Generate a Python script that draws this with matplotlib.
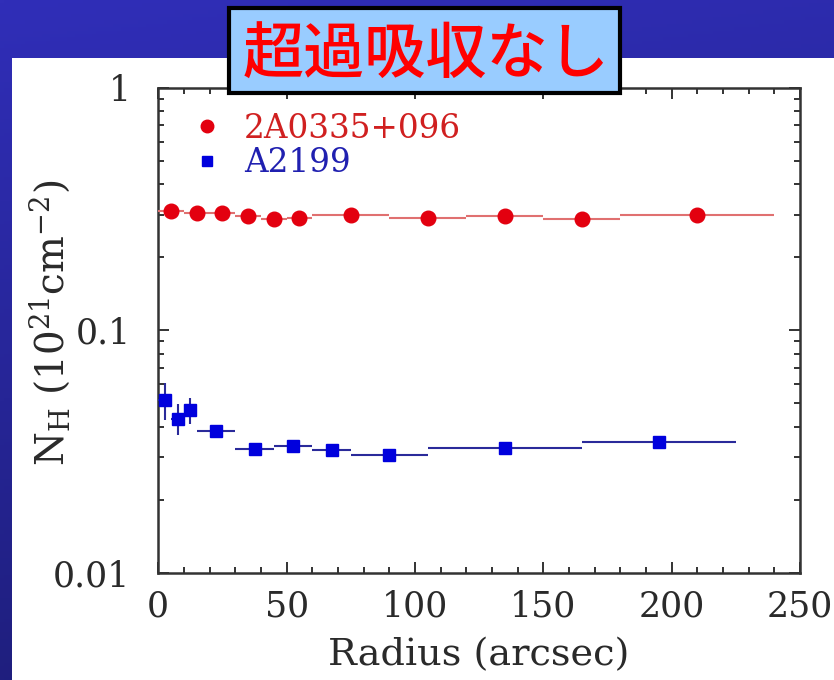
import numpy as np
import matplotlib
matplotlib.use("Agg")
import matplotlib.pyplot as plt
from matplotlib.patches import Rectangle
from matplotlib.ticker import MultipleLocator, FixedLocator, FixedFormatter, LogLocator, NullFormatter

# ---- data ----
title_text = "超過吸収なし"
label_red = "2A0335+096"
label_blue = "A2199"

r_red = [5, 15, 25, 35, 45, 55, 75, 105, 135, 165, 210]
r_red_lo = [0, 10, 20, 30, 40, 50, 60, 90, 120, 150, 180]
r_red_hi = [10, 20, 30, 40, 50, 60, 90, 120, 150, 180, 240]
nh_red = [0.310, 0.304, 0.304, 0.296, 0.289, 0.291, 0.300, 0.291, 0.295, 0.287, 0.300]

r_blue = [2.5, 7.5, 12.5, 22.5, 37.5, 52.5, 67.5, 90, 135, 195]
r_blue_lo = [0, 5, 10, 15, 30, 45, 60, 75, 105, 165]
r_blue_hi = [5, 10, 15, 30, 45, 60, 75, 105, 165, 225]
nh_blue = [0.0515, 0.0433, 0.0471, 0.0384, 0.0323, 0.0333, 0.0322, 0.0307, 0.0326, 0.0347]
nh_blue_lo = [0.0426, 0.0369, 0.0412, 0.0362, 0.0312, 0.0322, 0.0310, 0.0297, 0.0317, 0.0338]
nh_blue_hi = [0.0606, 0.0499, 0.0526, 0.0408, 0.0334, 0.0344, 0.0334, 0.0317, 0.0335, 0.0356]

ytick_vals = [0.01, 0.1, 1]
ytick_labels = ["0.01", "0.1", "1"]

plt.rcParams['mathtext.fontset'] = 'dejavuserif'
plt.rcParams['font.family'] = ['DejaVu Serif']

W, H = 834, 680
fig = plt.figure(figsize=(W / 100, H / 100), dpi=100)

# background gradient
bg = fig.add_axes([0, 0, 1, 1], zorder=-10)
yy = np.linspace(0, 1, 200)[:, None]
xx = np.linspace(0, 1, 200)[None, :]
top = np.array([48, 46, 184]) / 255
bot = np.array([28, 28, 116]) / 255
t = yy * 0.85 + xx * 0.15
img = top[None, None, :] * (1 - t[..., None]) + bot[None, None, :] * t[..., None]
bg.imshow(img, aspect='auto', extent=[0, 1, 0, 1], origin='upper')
bg.set_xlim(0, 1); bg.set_ylim(0, 1)
bg.axis('off')
bg.add_patch(Rectangle((12 / W, 0), 1 - 12 / W, (H - 58) / H, facecolor='white',
                       edgecolor='none', transform=bg.transAxes))

ax = fig.add_axes([158.3 / W, 1 - 573 / H, (800 - 158.3) / W, (573 - 87.7) / H])

red_line = '#E07070'
ax.errorbar(r_red, nh_red,
            xerr=[np.array(r_red) - np.array(r_red_lo), np.array(r_red_hi) - np.array(r_red)],
            fmt='o', color='#E3000F', ms=10.5, ecolor=red_line, elinewidth=1.5, capsize=0,
            zorder=3)
ax.errorbar(r_blue, nh_blue,
            xerr=[np.array(r_blue) - np.array(r_blue_lo), np.array(r_blue_hi) - np.array(r_blue)],
            yerr=[np.array(nh_blue) - np.array(nh_blue_lo), np.array(nh_blue_hi) - np.array(nh_blue)],
            fmt='s', color='#0000DD', ms=9, ecolor='#2A2A9A', elinewidth=1.5, capsize=0,
            zorder=3)

ax.set_xlim(0, 250)
ax.set_yscale('log')
ax.set_ylim(0.01, 1)
ax.xaxis.set_major_locator(MultipleLocator(50))
ax.xaxis.set_minor_locator(MultipleLocator(10))
ax.yaxis.set_major_locator(FixedLocator(ytick_vals))
ax.yaxis.set_major_formatter(FixedFormatter(ytick_labels))
ax.yaxis.set_minor_locator(LogLocator(base=10, subs=np.arange(2, 10)))
ax.yaxis.set_minor_formatter(NullFormatter())

txtc = '#2a2a2a'
for sp in ax.spines.values():
    sp.set_linewidth(1.8)
    sp.set_color('#333333')
ax.tick_params(which='both', direction='in', top=True, right=True, color='#333333')
ax.tick_params(which='major', length=8, width=1.4, labelsize=25, labelcolor=txtc)
ax.tick_params(which='minor', length=4.5, width=1.4)
ax.tick_params(axis='x', which='major', pad=12)
ax.tick_params(axis='y', which='major', pad=20)

ax.set_xlabel('Radius (arcsec)', fontsize=27.5, color=txtc, va='top')
ax.xaxis.set_label_coords(0.5, -0.133)
ax.set_ylabel(r'$\mathrm{N_H\ (10^{21}cm^{-2})}$', fontsize=28, color=txtc)
ax.yaxis.set_label_coords(-0.135, 0.515)

# legend
h1 = ax.plot([], [], 'o', color='#E3000F', ms=9)[0]
h2 = ax.plot([], [], 's', color='#0000DD', ms=7.5)[0]
leg = ax.legend([h1, h2], [label_red, label_blue], loc='upper left',
                bbox_to_anchor=(0.032, 0.975), frameon=False, fontsize=23.5,
                handlelength=0.9, handletextpad=0.7, labelspacing=0.08,
                borderaxespad=0)
leg.get_texts()[0].set_color('#D02020')
leg.get_texts()[1].set_color('#2020B0')

# title box
fig.patches.append(Rectangle((229 / W, 1 - 93 / H), (620 - 229) / W, 85 / H,
                             facecolor='#99CCFF', edgecolor='black', linewidth=3,
                             transform=fig.transFigure, zorder=10, figure=fig))
fig.text((229 + 620) / 2 / W + 2 / W, 1 - 56 / H, title_text, fontsize=44, color='#FF0000',
         ha='center', va='center', family=['Noto Sans CJK JP', 'DejaVu Sans'],
         fontweight='medium', zorder=11)

fig.savefig('out.png', dpi=100)
